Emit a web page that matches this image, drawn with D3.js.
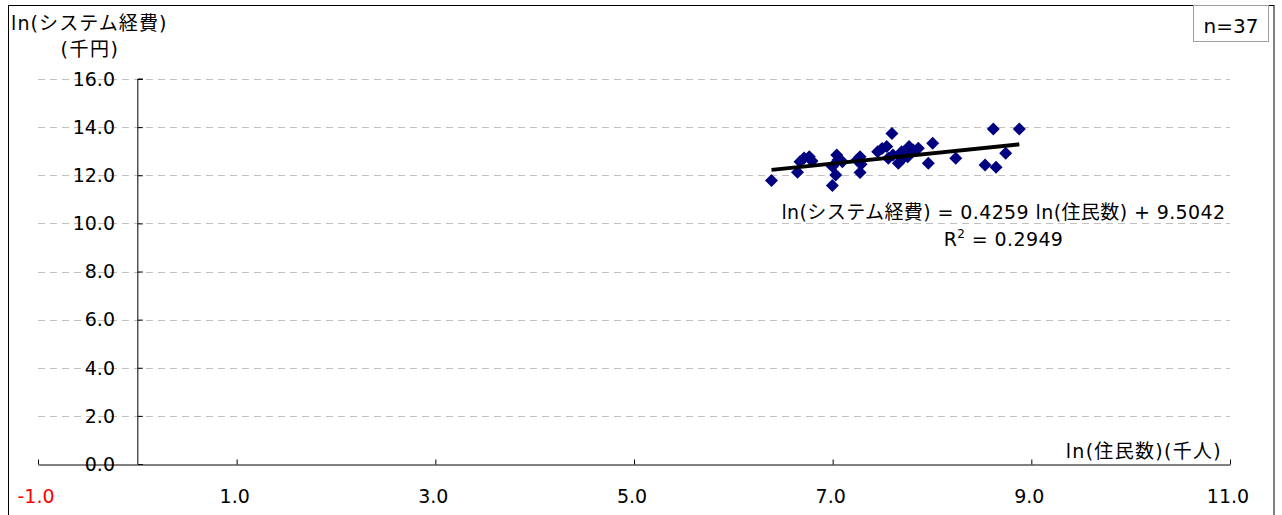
<!DOCTYPE html>
<html><head><meta charset="utf-8">
<script src="https://cdn.jsdelivr.net/npm/d3@7"></script>
<style>
html,body{margin:0;padding:0;background:#fff;}
svg{display:block;font-family:"DejaVu Sans","Noto Sans CJK JP",sans-serif;}
</style></head><body>
<svg id="chart" width="1282" height="515"></svg>
<script>
// ---- data ----
const xValues = [6.384,6.646,6.671,6.712,6.765,6.792,6.997,7.031,6.997,7.041,7.097,7.054,7.276,7.286,7.276,7.245,7.453,7.544,7.597,7.560,7.661,7.695,7.769,7.755,7.607,7.862,8.007,7.963,8.239,8.534,8.617,8.645,8.742,8.879,7.810,7.710,7.497];
const yValues = [11.78,12.12,12.56,12.72,12.77,12.59,11.57,12.01,12.36,12.84,12.56,12.63,12.77,12.46,12.11,12.63,12.98,13.19,13.74,12.71,12.50,12.98,13.19,12.77,12.84,13.12,13.33,12.50,12.71,12.43,13.92,12.33,12.91,13.92,13.05,12.72,13.11];
const xTicks = [-1,1,3,5,7,9,11];
const yTicks = [0,2,4,6,8,10,12,14,16];
const trendSlope = 0.4259, trendIntercept = 9.5042;
const equationText = "ln(システム経費) = 0.4259 ln(住民数) + 9.5042";
const r2Text = "0.2949";
const nText = "n=37";
const yTitle1 = "ln(システム経費)", yTitle2 = "(千円)";
const xTitle = "ln(住民数)(千人)";

const svg = d3.select("#chart");
const x = d3.scaleLinear().domain([-1, 11]).range([38, 1230]);
const y = d3.scaleLinear().domain([0, 16]).range([464, 79]);

// outer frame
svg.append("rect").attr("x",8.5).attr("y",5.5).attr("width",1265.5).attr("height",520)
  .attr("fill","none").attr("stroke","#000").attr("stroke-width",1);

// gridlines
svg.append("g").selectAll("line").data(yTicks.filter(d=>d>0)).join("line")
  .attr("x1", x(-1)).attr("x2", x(11))
  .attr("y1", d=>Math.round(y(d))+0.5).attr("y2", d=>Math.round(y(d))+0.5)
  .attr("stroke","#c0c0c0").attr("stroke-width",1).attr("stroke-dasharray","7,5");

// y axis labels (over gridlines)
svg.append("g").selectAll("text").data(yTicks).join("text")
  .attr("x",115).attr("y", d=>y(d)).attr("dy","0.36em")
  .attr("text-anchor","end").attr("font-size",19).attr("fill","#000")
  .text(d=>d3.format(".1f")(d));

// y axis
const yAxis = d3.axisRight(y).tickValues(yTicks).tickSize(5).tickFormat("");
const gy = svg.append("g").attr("transform",`translate(${x(0)+0.5},0)`).call(yAxis);
gy.select(".domain").attr("d", `M0,${y(16)}V${y(0)}M0,${y(16)}H5`);
gy.selectAll("line").attr("stroke","#000");
gy.selectAll(".domain").attr("stroke","#000");

// x axis
const xAxis = d3.axisTop(x).tickValues(xTicks).tickSize(5).tickSizeOuter(0).tickFormat("");
const gx = svg.append("g").attr("transform",`translate(0,${y(0)+0.5})`).call(xAxis);
gx.selectAll("line,.domain").attr("stroke","#000");

// x labels
svg.append("g").selectAll("text").data(xTicks).join("text")
  .attr("x", d=>x(d)-2).attr("y", 503)
  .attr("text-anchor","middle").attr("font-size",19)
  .attr("fill", d=>d<0 ? "#ff0000" : "#000")
  .text(d=>d3.format(".1f")(d).replace("−","-"));

// points
svg.append("g").selectAll("path").data(xValues.map((v,i)=>[v,yValues[i]])).join("path")
  .attr("d","M0,-6.5L6.5,0L0,6.5L-6.5,0Z")
  .attr("transform", d=>`translate(${x(d[0])},${y(d[1])})`)
  .attr("fill","#000080");

// trend line
const xMin = d3.min(xValues), xMax = d3.max(xValues);
svg.append("line")
  .attr("x1", x(xMin)).attr("y1", y(trendSlope*xMin+trendIntercept))
  .attr("x2", x(xMax)).attr("y2", y(trendSlope*xMax+trendIntercept))
  .attr("stroke","#000").attr("stroke-width",4);

// equation
svg.append("text").attr("x",1003.5).attr("y",219).attr("text-anchor","middle")
  .attr("font-size",19).attr("letter-spacing",0.4).text(equationText);
const r2 = svg.append("text").attr("x",1003.5).attr("y",246).attr("text-anchor","middle").attr("font-size",19).attr("letter-spacing",0.4);
r2.append("tspan").text("R");
r2.append("tspan").attr("font-size",12).attr("dy",-8).text("2");
r2.append("tspan").attr("dy",8).text(" = " + r2Text);

// axis titles
svg.append("text").attr("x",11).attr("y",30).attr("font-size",19).attr("letter-spacing",1.1).text(yTitle1);
svg.append("text").attr("x",90).attr("y",56).attr("text-anchor","middle").attr("font-size",19).attr("letter-spacing",1.5).text(yTitle2);
svg.append("text").attr("x",1222).attr("y",458).attr("text-anchor","end").attr("font-size",19).attr("letter-spacing",1.3).text(xTitle);

// n box
svg.append("rect").attr("x",1193.5).attr("y",5.5).attr("width",75).attr("height",36)
  .attr("fill","#fff").attr("stroke","#a0a0a0").attr("stroke-width",1);
svg.append("text").attr("x",1231).attr("y",33).attr("text-anchor","middle").attr("font-size",20).text(nText);
</script>
</body></html>
